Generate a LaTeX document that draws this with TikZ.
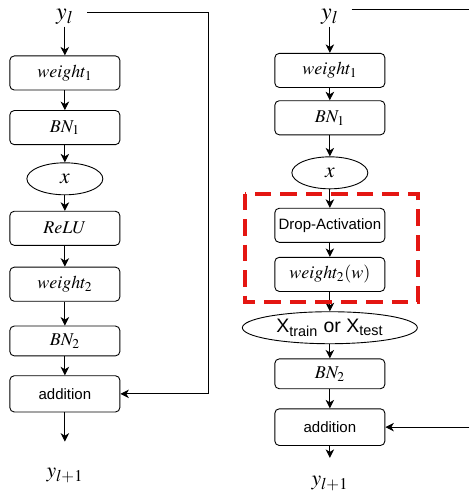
\documentclass[tikz,border=0pt]{standalone}
\usepackage{mathptmx}
\usepackage{fontspec}
\setsansfont{Liberation Sans}
\usetikzlibrary{arrows.meta,shapes.geometric}

\definecolor{dropred}{RGB}{228,22,18}

\tikzset{every picture/.style={line width=0.6pt}}
\tikzset{
  blk/.style={draw, rounded corners=3pt, minimum width=2.58cm, minimum height=0.8cm, inner sep=1pt, font=\large},
  oval/.style={draw, ellipse, minimum width=1.78cm, minimum height=0.75cm, inner sep=0pt, font=\Large},
  flow/.style={-{Stealth[length=2mm,width=2mm,inset=0.6mm]}},
  lbl/.style={inner sep=1pt, font=\Large}
}

\begin{document}
\begin{tikzpicture}
        \useasboundingbox (0,0) rectangle (11.0,-11.6);
        % left block
        \node[lbl, font=\fontsize{16}{18}\selectfont] (yl1) at (1.52,-0.40) {$y_l$};
        \node[blk] (wa1) at (1.52,-1.71) {$weight_1$};
        \node[blk] (bna1) at (1.52,-2.99) {$BN_1$};
        \node[oval] (xa1) at (1.52,-4.19) {$x$};
        \node[blk] (relu1) at (1.52,-5.35) {$ReLU$};
        \node[blk] (wb1) at (1.52,-6.66) {$weight_2$};
        \node[blk, minimum height=0.7cm] (bnb1) at (1.52,-7.99) {$BN_2$};
        \node[blk, minimum height=0.85cm, font=\sffamily] (add1) at (1.52,-9.23) {addition};
        \coordinate (out1) at (1.52,-10.35);
        \node[lbl] (ylp1) at (1.52,-11.15) {$y_{l+1}$};
        \coordinate (s1) at (2.04,-0.30);
        \coordinate (c1) at (4.89,-0.30);
        \draw[flow] (yl1) -- (wa1);
        \draw[flow] (wa1) -- (bna1);
        \draw[flow] (bna1) -- (xa1);
        \draw[flow] (xa1) -- (relu1);
        \draw[flow] (relu1) -- (wb1);
        \draw[flow] (wb1) -- (bnb1);
        \draw[flow] (bnb1) -- (add1);
        \draw[flow] (add1) -- (out1);
        \draw[flow] (s1) -- (c1) |- (add1.east);
        % right block
        \node[lbl, font=\fontsize{16}{18}\selectfont] (yl2) at (7.73,-0.40) {$y_l$};
        \node[blk] (wa2) at (7.73,-1.65) {$weight_1$};
        \node[blk] (bna2) at (7.73,-2.76) {$BN_1$};
        \node[oval] (xa2) at (7.73,-4.05) {$x$};
        \node[blk, font=\sffamily] (drop2) at (7.73,-5.28) {Drop-Activation};
        \node[blk] (wb2) at (7.73,-6.43) {$weight_2(w)$};
        \node[oval, minimum width=4.1cm, font=\sffamily\fontsize{13}{15}\selectfont] (xt2) at (7.73,-7.68) {X\textsubscript{train} or X\textsubscript{test}};
        \node[blk, minimum height=0.7cm] (bnb2) at (7.73,-8.76) {$BN_2$};
        \node[blk, minimum height=0.86cm, font=\sffamily] (add2) at (7.73,-10.01) {addition};
        \coordinate (out2) at (7.73,-10.73);
        \node[lbl] (ylp2) at (7.73,-11.34) {$y_{l+1}$};
        \coordinate (s2) at (8.24,-0.23);
        \coordinate (e2) at (11.0,-0.23);
        \coordinate (f2) at (11.0,-10.01);
        \draw[flow] (yl2) -- (wa2);
        \draw[flow] (wa2) -- (bna2);
        \draw[flow] (bna2) -- (xa2);
        \draw[flow] (xa2) -- (drop2);
        \draw[flow] (drop2) -- (wb2);
        \draw[flow] (wb2) -- (xt2);
        \draw[flow] (xt2) -- (bnb2);
        \draw[flow] (bnb2) -- (add2);
        \draw[flow] (add2) -- (out2);
        \draw (s2) -- (e2);
        \draw[flow] (f2) -- (add2);
        % dropped part
        \draw[dropred, line width=2.6pt, dash pattern=on 11pt off 6pt] (5.74,-4.54) rectangle (9.79,-7.07);
    \end{tikzpicture}
\end{document}
